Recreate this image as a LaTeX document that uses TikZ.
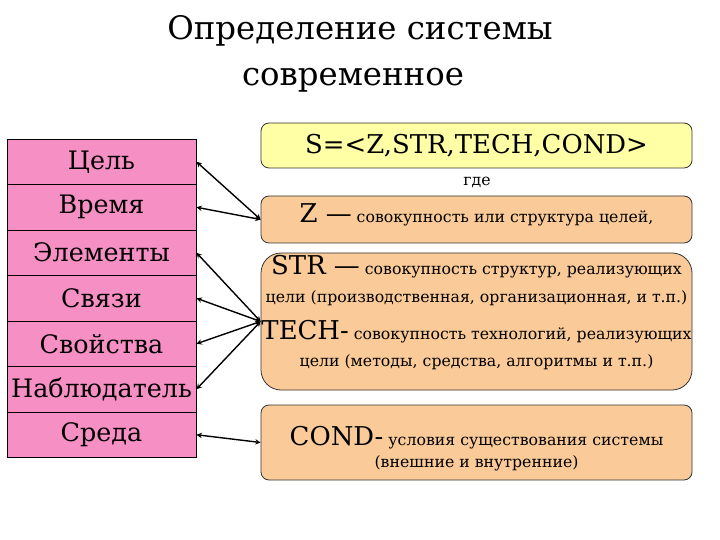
\documentclass[tikz,border=0pt]{standalone}
\usepackage{fontspec}
\newfontfamily\slidefont{DejaVu Serif}[Ligatures=TeX]
\usetikzlibrary{arrows}
\definecolor{rowpink}{RGB}{246,143,196}
\definecolor{boxyellow}{RGB}{255,255,165}
\definecolor{boxorange}{RGB}{250,202,152}
\newcommand{\bigsym}{\fontsize{26}{28}\selectfont}
\newcommand{\smalltxt}{\fontsize{15.8}{28}\selectfont}
\begin{document}
\begin{tikzpicture}[x=1bp, y=-1bp,
        row/.style={draw, fill=rowpink, line width=0.9pt, inner sep=0pt,
                    minimum width=189bp, minimum height=45.5bp,
                    font=\slidefont\fontsize{25.5}{28}\selectfont},
        defbox/.style={draw=black!80, fill=boxorange, rounded corners=8bp,
                       line width=0.8pt, align=center, inner sep=0pt,
                       minimum width=431bp},
        arr/.style={<->, >=stealth, line width=1.4pt}
    ]
    \useasboundingbox (0,0) rectangle (720,540);

    % title
    \node[font=\slidefont\fontsize{32.5}{36}\selectfont, anchor=base] (title1) at (360,40) {Определение системы};
    \node[font=\slidefont\fontsize{32.5}{36}\selectfont, anchor=base] (title2) at (353,86) {современное};

    % left column
    \node[row] (celj)  at (101.5,161.75) {Цель};
    \node[row] (vrem)  at (101.5,207.25) {Время};
    \node[row] (elem)  at (101.5,252.75) {Элементы};
    \node[row] (svyaz) at (101.5,298.25) {Связи};
    \node[row] (svoj)  at (101.5,343.75) {Свойства};
    \node[row] (nabl)  at (101.5,389.25) {Наблюдатель};
    \node[row] (sreda) at (101.5,434.75) {Среда};

    % right side
    \node[defbox, fill=boxyellow, minimum height=45bp, font=\slidefont\bigsym] (sdef) at (476.5,145.5)
        {S=<Z,STR,TECH,COND>};
    \node[font=\slidefont\smalltxt] (gde) at (477,182) {где};
    \node[defbox, minimum height=47bp, font=\slidefont\smalltxt] (zdef) at (476.5,219.5)
        {{\bigsym Z —} совокупность или структура целей,\rule[-12bp]{0pt}{0pt}};
    \node[defbox, rounded corners=20bp, minimum height=137bp, font=\slidefont\smalltxt] (strdef) at (476.5,321.5)
        {{\bigsym STR —} совокупность структур, реализующих\\
         цели (производственная, организационная, и т.п.)\\[9bp]
         {\bigsym TECH-} совокупность технологий, реализующих\\
         цели (методы, средства, алгоритмы и т.п.)\rule[-21bp]{0pt}{0pt}};
    \node[defbox, minimum height=75bp, font=\slidefont\fontsize{15.8}{22}\selectfont] (conddef) at (476.5,442.5)
        {\rule{0pt}{31bp}{\bigsym COND-} условия существования системы\\
         (внешние и внутренние)};

    \draw[arr] (celj.east)  -- (zdef.west);
    \draw[arr] (vrem.east)  -- (zdef.west);
    \draw[arr] (elem.east)  -- (strdef.west);
    \draw[arr] (svyaz.east) -- (strdef.west);
    \draw[arr] (svoj.east)  -- (strdef.west);
    \draw[arr] (nabl.east)  -- (strdef.west);
    \draw[arr] (sreda.east) -- (conddef.west);
\end{tikzpicture}
\end{document}
